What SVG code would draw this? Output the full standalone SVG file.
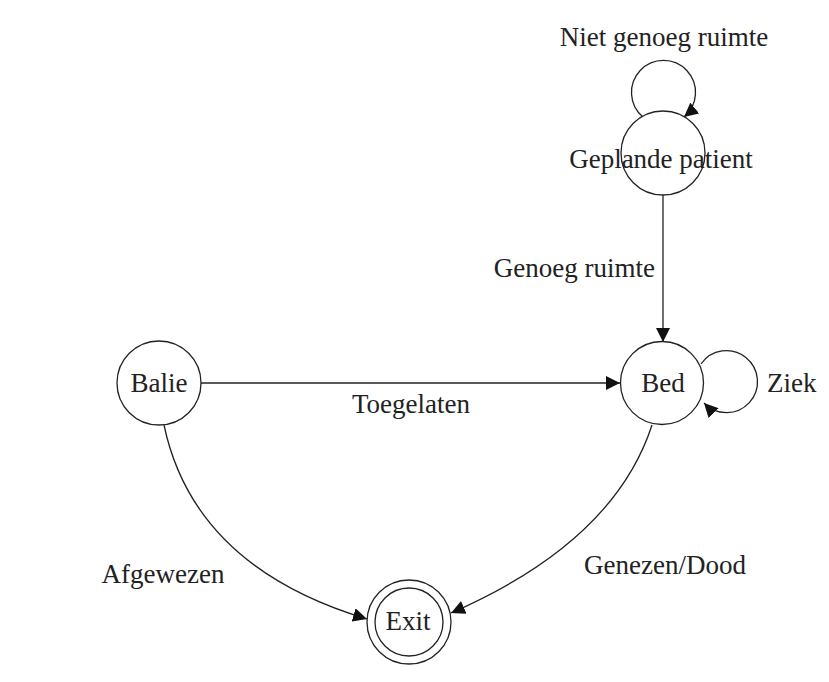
<svg xmlns="http://www.w3.org/2000/svg" width="829" height="682" viewBox="0 0 829 682">
<style>
.node{fill:#fff;stroke:#222;stroke-width:1.3}
.edge{fill:none;stroke:#222;stroke-width:1.3}
text{font-family:"Liberation Serif","Times New Roman",serif;font-size:27px;fill:#222}
</style>
<defs>
<marker id="arr" markerUnits="userSpaceOnUse" markerWidth="14" markerHeight="14" viewBox="0 0 12 12" refX="12" refY="6" orient="auto">
<path d="M0,0 L12,6 L0,12 Z" fill="#111"/>
</marker>
</defs>
<rect width="829" height="682" fill="#fff"/>
<g id="connectors">
<path class="edge" d="M663,195 L663,342" marker-end="url(#arr)"/>
<path class="edge" d="M201,383 L620,383" marker-end="url(#arr)"/>
<path class="edge" d="M643,117 A32,32 0 1 1 684,117" marker-end="url(#arr)"/>
<path class="edge" d="M701,364 A31,31 0 1 1 704,403" marker-end="url(#arr)"/>
<path class="edge" d="M164,425 Q194,567 367,619" marker-end="url(#arr)"/>
<path class="edge" d="M652,425 Q614,542 451,613" marker-end="url(#arr)"/>
<text x="163" y="583" text-anchor="middle">Afgewezen</text>
<text x="665" y="574" text-anchor="middle">Genezen/Dood</text>
<text x="411" y="413" text-anchor="middle">Toegelaten</text>
<text x="655" y="277" text-anchor="end">Genoeg ruimte</text>
<text x="664" y="46" text-anchor="middle">Niet genoeg ruimte</text>
<text x="767" y="392">Ziek</text>
</g>
<g id="geplande">
<circle class="node" cx="663" cy="153" r="42"/>
<text x="661" y="168" text-anchor="middle">Geplande patient</text>
</g>
<g id="balie">
<circle class="node" cx="159" cy="383" r="42"/>
<text x="159" y="392" text-anchor="middle">Balie</text>
</g>
<g id="bed">
<circle class="node" cx="662" cy="383" r="41.5"/>
<text x="663" y="392" text-anchor="middle">Bed</text>
</g>
<g id="exit">
<circle class="node" cx="409" cy="622" r="42"/>
<circle class="node" cx="409" cy="622" r="34"/>
<text x="408" y="630" text-anchor="middle">Exit</text>
</g>
</svg>
